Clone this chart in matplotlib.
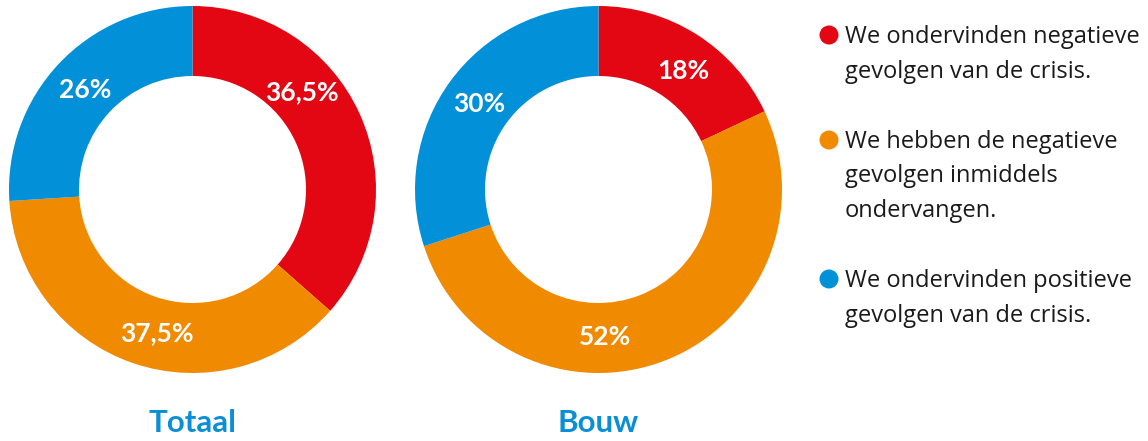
import numpy as np
import matplotlib
matplotlib.use("Agg")
import matplotlib.pyplot as plt
from matplotlib.patches import Circle

# ---- data ----
groups = ["Totaal", "Bouw"]
totaal_values = [36.5, 37.5, 26.0]
bouw_values = [18.0, 52.0, 30.0]
totaal_labels = ["36,5%", "37,5%", "26%"]
bouw_labels = ["18%", "52%", "30%"]
legend_labels = [
    "We ondervinden negatieve\ngevolgen van de crisis.",
    "We hebben de negatieve\ngevolgen inmiddels\nondervangen.",
    "We ondervinden positieve\ngevolgen van de crisis.",
]

# ---- style ----
colors = ["#E30613", "#F08A00", "#0291D8"]
title_color = "#0A8FD6"
W, H = 1148, 441
centers = [(192.5, H - 189.5), (598.5, H - 189.5)]
R_OUT, R_IN = 183.5, 113.5
LABEL_R = 147
# per-label angle nudges (degrees, clockwise) relative to wedge middle
angle_nudges = [[-17.7, -5.0, 0.0], [3.0, 19.0, 0.0]]

fig = plt.figure(figsize=(W / 100, H / 100), dpi=100)
ax = fig.add_axes([0, 0, 1, 1])

label_font = dict(family=["Lato", "DejaVu Sans"], weight="bold", size=19, color="white")

for gi, (name, vals, labs) in enumerate(zip(groups, [totaal_values, bouw_values],
                                               [totaal_labels, bouw_labels])):
    cx, cy = centers[gi]
    ax.pie(vals, colors=colors, startangle=90, counterclock=False,
           radius=R_OUT, center=(cx, cy),
           wedgeprops=dict(width=R_OUT - R_IN, linewidth=0, antialiased=True),
           frame=True)
    total = sum(vals)
    cum = 0.0
    for vi, (v, lab) in enumerate(zip(vals, labs)):
        mid = (cum + v / 2) / total * 360 + angle_nudges[gi][vi]
        cum += v
        th = np.deg2rad(mid)
        x = cx + LABEL_R * np.sin(th)
        y = cy + LABEL_R * np.cos(th)
        ax.text(x, y - 9, lab, ha="center", va="baseline", **label_font)
    ax.text(cx, H - 432, name, ha="center", va="baseline",
            family=["Lato", "DejaVu Sans"], weight="bold", size=22.5,
            color=title_color)

ax.set_xlim(0, W)
ax.set_ylim(0, H)
ax.set_aspect("equal")
ax.axis("off")

# ---- legend ----
leg_x_dot, leg_x_text = 829, 845
first_baselines = [43, 148, 287]
line_step = 34.5
for li, (lab, col, bl) in enumerate(zip(legend_labels, colors, first_baselines)):
    ax.add_patch(Circle((leg_x_dot, H - (bl - 8)), 9.5, color=col, lw=0))
    for k, line in enumerate(lab.split("\n")):
        ax.text(leg_x_text, H - (bl + k * line_step), line, ha="left",
                va="baseline", family=["Open Sans", "DejaVu Sans"],
                size=17.0, color="#1a1a1a")

fig.savefig("out.png", dpi=100)
